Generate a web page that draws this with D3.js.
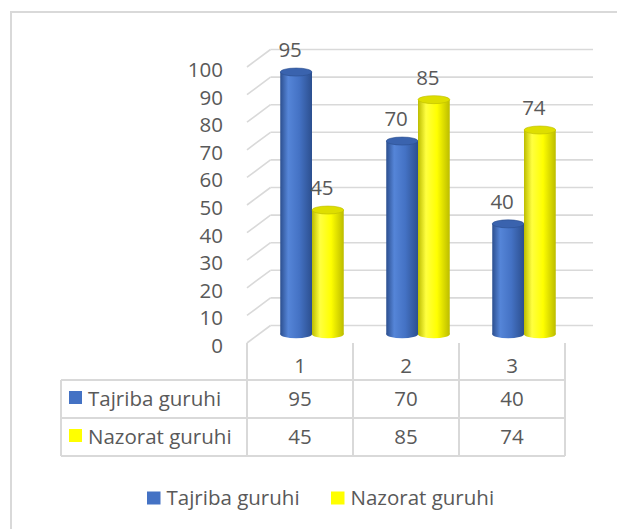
<!DOCTYPE html>
<html>
<head>
<meta charset="utf-8">
<script src="https://cdn.jsdelivr.net/npm/d3@7"></script>
<style>
  body { margin: 0; background: #fff; }
  text { font-family: "Open Sans", "Liberation Sans", Arial, sans-serif; fill: #595959; }
</style>
</head>
<body>
<script>
const categories = ['1', '2', '3'];
const seriesNames = ['Tajriba guruhi', 'Nazorat guruhi'];
const tajriba = [95, 70, 40];
const nazorat = [45, 85, 74];
const yTicks = [0, 10, 20, 30, 40, 50, 60, 70, 80, 90, 100];

const series = [tajriba, nazorat];
const colors = [
  { main: '#4472c4', dark: '#2c4f8f', light: '#5585d8', top: '#3a63ae' },
  { main: '#ffff00', dark: '#bcbc00', light: '#ffff40', top: '#dede00' }
];

const width = 617, height = 529;
const dx = 23.5, dy = -17.5;   // depth offset front -> back wall
const fs = 20.5;
const gridColor = '#d9d9d9';

const svg = d3.select('body').append('svg')
  .attr('width', width)
  .attr('height', height);

// chart frame
svg.append('rect')
  .attr('x', 11).attr('y', 12)
  .attr('width', 640).attr('height', 540)
  .attr('fill', 'none')
  .attr('stroke', gridColor)
  .attr('stroke-width', 2);

const x = d3.scaleBand().domain(categories).range([247, 565]);
const xs = d3.scaleBand().domain(seriesNames).range([21.5, 85]);
const y = d3.scaleLinear().domain([0, 100]).range([343, 67]);

// gradients for cylinders
const defs = svg.append('defs');
colors.forEach((c, i) => {
  const g = defs.append('linearGradient').attr('id', 'body' + i)
    .attr('x1', '0%').attr('x2', '100%').attr('y1', '0%').attr('y2', '0%');
  g.append('stop').attr('offset', '0%').attr('stop-color', c.dark);
  g.append('stop').attr('offset', '25%').attr('stop-color', c.light);
  g.append('stop').attr('offset', '60%').attr('stop-color', c.main);
  g.append('stop').attr('offset', '100%').attr('stop-color', c.dark);
});

// walls: back gridlines + side diagonals
const grid = svg.append('g').attr('stroke', gridColor).attr('stroke-width', 1.6);
grid.selectAll('.back').data(yTicks).enter().append('line')
  .attr('x1', 247 + dx).attr('x2', 593)
  .attr('y1', d => y(d) + dy).attr('y2', d => y(d) + dy);
grid.selectAll('.side').data(yTicks).enter().append('line')
  .attr('x1', 247).attr('x2', 247 + dx)
  .attr('y1', d => y(d)).attr('y2', d => y(d) + dy);

// y axis labels
svg.selectAll('.ylab').data(yTicks).enter().append('text')
  .attr('x', 223)
  .attr('y', d => y(d) + 10)
  .attr('text-anchor', 'end')
  .style('font-size', fs + 'px')
  .text(d => d);

// cylinders
const ry = 4;
series.forEach((vals, si) => {
  const g = svg.append('g');
  const w = xs.bandwidth();
  vals.forEach((v, ci) => {
    const x0 = x(categories[ci]) + xs(seriesNames[si]) + dx / 2;
    const yTop = y(v) + dy / 2;
    const yBase = y(0) + dy / 2;
    g.append('rect')
      .attr('x', x0).attr('y', yTop)
      .attr('width', w).attr('height', yBase - yTop)
      .attr('fill', `url(#body${si})`);
    g.append('ellipse')
      .attr('cx', x0 + w / 2).attr('cy', yBase)
      .attr('rx', w / 2).attr('ry', ry)
      .attr('fill', `url(#body${si})`);
    g.append('ellipse')
      .attr('cx', x0 + w / 2).attr('cy', yTop)
      .attr('rx', w / 2).attr('ry', ry)
      .attr('fill', colors[si].top)
      .attr('stroke', colors[si].dark).attr('stroke-width', 0.6);
    svg.append('text')
      .attr('x', x0 + w / 2 - 6)
      .attr('y', yTop - 15)
      .attr('text-anchor', 'middle')
      .style('font-size', fs + 'px')
      .text(v);
  });
});

// data table
const rowsY = [343, 380, 418, 456];
const tbl = svg.append('g').attr('stroke', gridColor).attr('stroke-width', 2);
rowsY.slice(1).forEach(ry0 => {
  tbl.append('line').attr('x1', 61).attr('x2', 565).attr('y1', ry0).attr('y2', ry0);
});
tbl.append('line').attr('x1', 61).attr('x2', 61).attr('y1', rowsY[1]).attr('y2', rowsY[3]);
const bounds = categories.map(c => x(c)).concat([x.range()[1]]);
bounds.forEach(bx => {
  tbl.append('line').attr('x1', bx).attr('x2', bx).attr('y1', rowsY[0]).attr('y2', rowsY[3]);
});

// header row: category labels
svg.selectAll('.cat').data(categories).enter().append('text')
  .attr('x', d => x(d) + x.bandwidth() / 2)
  .attr('y', (rowsY[0] + rowsY[1]) / 2 + 11)
  .attr('text-anchor', 'middle')
  .style('font-size', fs + 'px')
  .text(d => d);

series.forEach((vals, si) => {
  const mid = (rowsY[si + 1] + rowsY[si + 2]) / 2;
  svg.append('rect')
    .attr('x', 69).attr('y', mid - 8)
    .attr('width', 13).attr('height', 13)
    .attr('fill', colors[si].main);
  svg.append('text')
    .attr('x', 88).attr('y', mid + 7)
    .style('font-size', fs + 'px')
    .text(seriesNames[si]);
  vals.forEach((v, ci) => {
    svg.append('text')
      .attr('x', x(categories[ci]) + x.bandwidth() / 2)
      .attr('y', mid + 7)
      .attr('text-anchor', 'middle')
      .style('font-size', fs + 'px')
      .text(v);
  });
});

// legend
const legendX = [147, 331];
seriesNames.forEach((name, i) => {
  svg.append('rect')
    .attr('x', legendX[i]).attr('y', 491.5)
    .attr('width', 13.5).attr('height', 13)
    .attr('fill', colors[i].main);
  svg.append('text')
    .attr('x', legendX[i] + 19.5).attr('y', 505)
    .style('font-size', fs + 'px')
    .text(name);
});
</script>
</body>
</html>
